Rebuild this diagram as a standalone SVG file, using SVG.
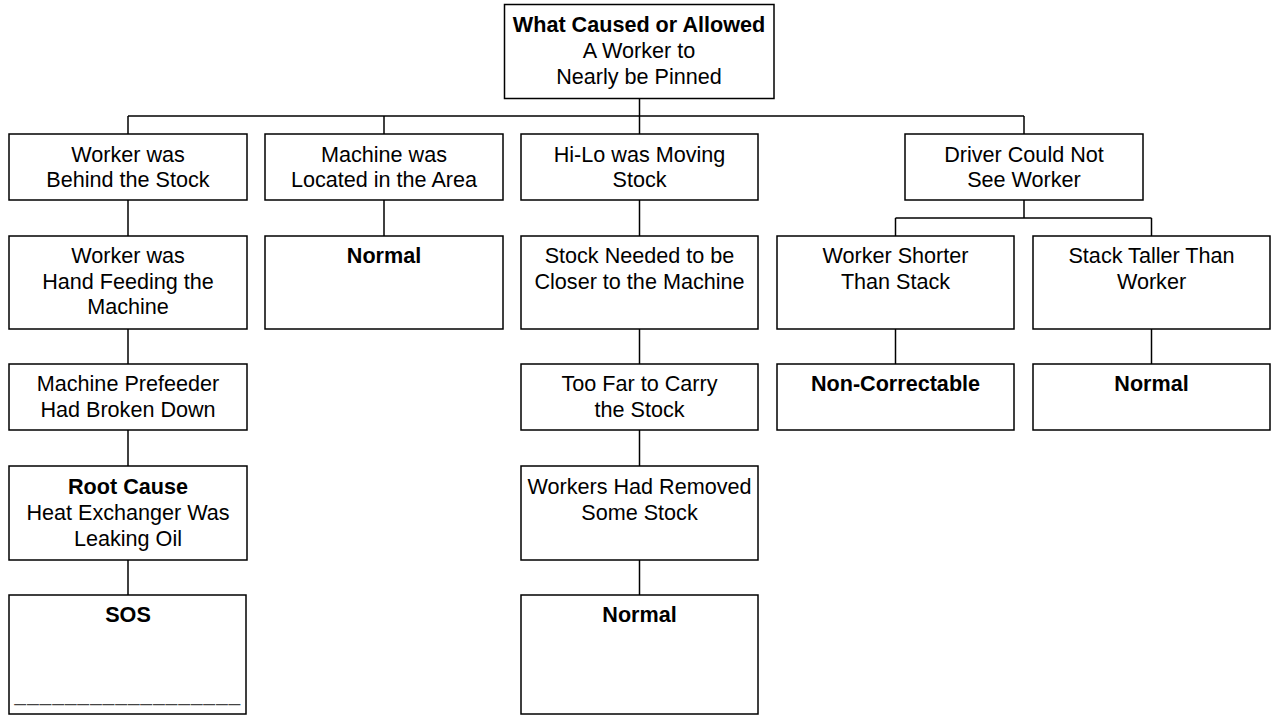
<svg xmlns="http://www.w3.org/2000/svg" width="1272" height="715" viewBox="0 0 1272 715">
<style>
rect{fill:#fff;stroke:#000;stroke-width:1.5}
.c line{stroke:#000;stroke-width:1.5}
text{font-family:"Liberation Sans",Arial,sans-serif;font-size:21.6px;text-anchor:middle;fill:#000}
.b{font-weight:bold}
.u{font-size:20.5px;letter-spacing:1.2px;fill:#444}
</style>
<rect x="0" y="0" width="1272" height="715" style="stroke:none"/>
<g class="c" id="connectors">
<line x1="639.5" y1="98.5" x2="639.5" y2="134"/>
<line x1="128" y1="116" x2="1024" y2="116"/>
<line x1="128" y1="116" x2="128" y2="134"/>
<line x1="384" y1="116" x2="384" y2="134"/>
<line x1="1024" y1="116" x2="1024" y2="134"/>
<line x1="128" y1="200" x2="128" y2="236"/>
<line x1="128" y1="329" x2="128" y2="364"/>
<line x1="128" y1="430" x2="128" y2="466"/>
<line x1="128" y1="560" x2="128" y2="595"/>
<line x1="384" y1="200" x2="384" y2="236"/>
<line x1="639.5" y1="200" x2="639.5" y2="236"/>
<line x1="639.5" y1="329" x2="639.5" y2="364"/>
<line x1="639.5" y1="430" x2="639.5" y2="466"/>
<line x1="639.5" y1="560" x2="639.5" y2="595"/>
<line x1="1024" y1="200" x2="1024" y2="218"/>
<line x1="895.5" y1="218" x2="1151.5" y2="218"/>
<line x1="895.5" y1="218" x2="895.5" y2="236"/>
<line x1="1151.5" y1="218" x2="1151.5" y2="236"/>
<line x1="895.5" y1="329" x2="895.5" y2="364"/>
<line x1="1151.5" y1="329" x2="1151.5" y2="364"/>
</g>
<g id="top">
<rect x="504.5" y="4.5" width="269.5" height="94"/>
<text x="639" y="31.5" class="b">What Caused or Allowed</text>
<text x="639" y="57.5">A Worker to</text>
<text x="639" y="83.5">Nearly be Pinned</text>
</g>
<g id="n1">
<rect x="9" y="134" width="238" height="66"/>
<text x="128" y="161.5">Worker was</text>
<text x="128" y="187">Behind the Stock</text>
</g>
<g id="n2">
<rect x="265" y="134" width="238" height="66"/>
<text x="384" y="161.5">Machine was</text>
<text x="384" y="187">Located in the Area</text>
</g>
<g id="n3">
<rect x="521" y="134" width="237" height="66"/>
<text x="639.5" y="161.5">Hi-Lo was Moving</text>
<text x="639.5" y="187">Stock</text>
</g>
<g id="n4">
<rect x="905" y="134" width="238" height="66"/>
<text x="1024" y="161.5">Driver Could Not</text>
<text x="1024" y="187">See Worker</text>
</g>
<g id="n1b">
<rect x="9" y="236" width="238" height="93"/>
<text x="128" y="262.5">Worker was</text>
<text x="128" y="288.5">Hand Feeding the</text>
<text x="128" y="314">Machine</text>
</g>
<g id="n2b">
<rect x="265" y="236" width="238" height="93"/>
<text x="384" y="262.5" class="b">Normal</text>
</g>
<g id="n3b">
<rect x="521" y="236" width="237" height="93"/>
<text x="639.5" y="262.5">Stock Needed to be</text>
<text x="639.5" y="288.5">Closer to the Machine</text>
</g>
<g id="n4a">
<rect x="777" y="236" width="237" height="93"/>
<text x="895.5" y="262.5">Worker Shorter</text>
<text x="895.5" y="288.5">Than Stack</text>
</g>
<g id="n4b">
<rect x="1033" y="236" width="237" height="93"/>
<text x="1151.5" y="262.5">Stack Taller Than</text>
<text x="1151.5" y="288.5">Worker</text>
</g>
<g id="n1c">
<rect x="9" y="364" width="238" height="66"/>
<text x="128" y="391">Machine Prefeeder</text>
<text x="128" y="417">Had Broken Down</text>
</g>
<g id="n3c">
<rect x="521" y="364" width="237" height="66"/>
<text x="639.5" y="391">Too Far to Carry</text>
<text x="639.5" y="417">the Stock</text>
</g>
<g id="n4a2">
<rect x="777" y="364" width="237" height="66"/>
<text x="895.5" y="391" class="b">Non-Correctable</text>
</g>
<g id="n4b2">
<rect x="1033" y="364" width="237" height="66"/>
<text x="1151.5" y="391" class="b">Normal</text>
</g>
<g id="n1d">
<rect x="9" y="466" width="238" height="94"/>
<text x="128" y="493.5" class="b">Root Cause</text>
<text x="128" y="520">Heat Exchanger Was</text>
<text x="128" y="546">Leaking Oil</text>
</g>
<g id="n3d">
<rect x="521" y="466" width="237" height="94"/>
<text x="639.5" y="493.5">Workers Had Removed</text>
<text x="639.5" y="520">Some Stock</text>
</g>
<g id="n1e">
<rect x="9" y="595" width="237" height="119"/>
<text x="128" y="621.5" class="b">SOS</text>
<text x="128" y="701" class="u">__________________</text>
</g>
<g id="n3e">
<rect x="521" y="595" width="237" height="119"/>
<text x="639.5" y="621.5" class="b">Normal</text>
</g>
</svg>
